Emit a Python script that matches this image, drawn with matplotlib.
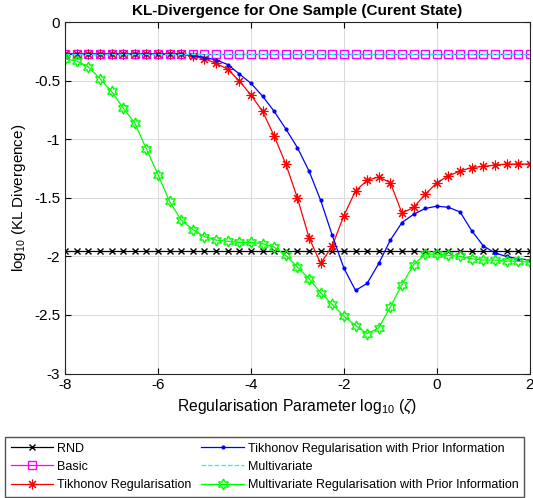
import numpy as np
import matplotlib
matplotlib.use("Agg")
import matplotlib.pyplot as plt

plt.rcParams['font.family'] = ['Liberation Sans', 'DejaVu Sans']
plt.rcParams['mathtext.fontset'] = 'custom'
plt.rcParams['mathtext.rm'] = 'Liberation Sans'
plt.rcParams['mathtext.it'] = 'Liberation Sans:italic'

# regularisation parameter, log10 scale
x = np.arange(-8, 2.001, 0.25)

rnd = [-1.95] * 41
basic = [-0.27] * 41
multivariate = [-0.27] * 41

tikhonov = [-0.27, -0.27, -0.27, -0.27, -0.27, -0.27, -0.27, -0.27, -0.27, -0.27,
            -0.27, -0.29, -0.31, -0.35, -0.40, -0.50, -0.62, -0.76, -0.97, -1.21,
            -1.50, -1.84, -2.06, -1.91, -1.65, -1.44, -1.35, -1.32, -1.37, -1.63,
            -1.58, -1.47, -1.37, -1.31, -1.27, -1.24, -1.23, -1.22, -1.21, -1.21,
            -1.21]

tikhonov_prior = [-0.27, -0.27, -0.27, -0.27, -0.27, -0.27, -0.27, -0.27, -0.27, -0.27,
                  -0.27, -0.28, -0.30, -0.32, -0.36, -0.44, -0.52, -0.63, -0.76, -0.91,
                  -1.07, -1.27, -1.52, -1.82, -2.10, -2.29, -2.23, -2.06, -1.86, -1.71,
                  -1.64, -1.59, -1.57, -1.58, -1.62, -1.78, -1.91, -1.97, -2.00, -2.02,
                  -2.03]

multi_prior = [-0.31, -0.33, -0.38, -0.48, -0.59, -0.73, -0.86, -1.08, -1.30, -1.53,
               -1.69, -1.77, -1.83, -1.86, -1.87, -1.88, -1.88, -1.89, -1.92, -1.99,
               -2.09, -2.19, -2.31, -2.41, -2.51, -2.59, -2.66, -2.61, -2.43, -2.24,
               -2.07, -1.98, -1.98, -1.99, -2.00, -2.02, -2.03, -2.03, -2.04, -2.04,
               -2.05]

fig = plt.figure(figsize=(5.33, 4.98), dpi=100)
ax = fig.add_axes([0.122, 0.25, 0.872, 0.705])

ax.plot(x, rnd, color='black', marker='x', markersize=5, lw=0.9, label='RND')
ax.plot(x, basic, color='magenta', marker='s', markersize=6, mfc='none', lw=0.9, label='Basic')
ax.plot(x, tikhonov, color='red', marker=(8, 2, 0), markersize=7, mew=0.8, lw=0.9,
        label='Tikhonov Regularisation')
ax.plot(x, tikhonov_prior, color='blue', marker='.', markersize=4, lw=0.9,
        label='Tikhonov Regularisation with Prior Information')
ax.plot(x, multivariate, color='cyan', ls='--', lw=0.9, label='Multivariate')
ax.plot(x, multi_prior, color='#00ff00', marker=(6, 1, 0), markersize=8, mfc='none', lw=0.9,
        label='Multivariate Regularisation with Prior Information')

ax.set_xlim(-8, 2)
ax.set_ylim(-3, 0)
ax.set_xticks([-8, -6, -4, -2, 0, 2])
ax.set_yticks([-3, -2.5, -2, -1.5, -1, -0.5, 0])
ax.set_yticklabels(['-3', '-2.5', '-2', '-1.5', '-1', '-0.5', '0'])
ax.set_xticklabels(['-8', '-6', '-4', '-2', '0', '2'])
ax.grid(True, color='#dcdcdc', lw=0.8)
ax.set_axisbelow(True)
ax.tick_params(direction='in', labelsize=11, length=4, top=True, right=True,
               labeltop=False, labelright=False)
for s in ax.spines.values():
    s.set_linewidth(0.8)
    s.set_color('#262626')

ax.set_title('KL-Divergence for One Sample (Curent State)', fontsize=11, fontweight='bold', pad=5)
ax.set_ylabel(r'log$_{10}$ (KL Divergence)', fontsize=11)
ax.set_xlabel(r'Regularisation Parameter log$_{10}$ ($\zeta$)', fontsize=11.3)

fig.legend(loc='upper left', bbox_to_anchor=(0.0094, 0.1225), ncol=2,
           fontsize=9, frameon=True, fancybox=False, edgecolor='#262626',
           handlelength=3.4, handletextpad=0.3, borderpad=0.45, labelspacing=0.5,
           columnspacing=0.8, borderaxespad=0)

fig.savefig('out.png', dpi=100)
